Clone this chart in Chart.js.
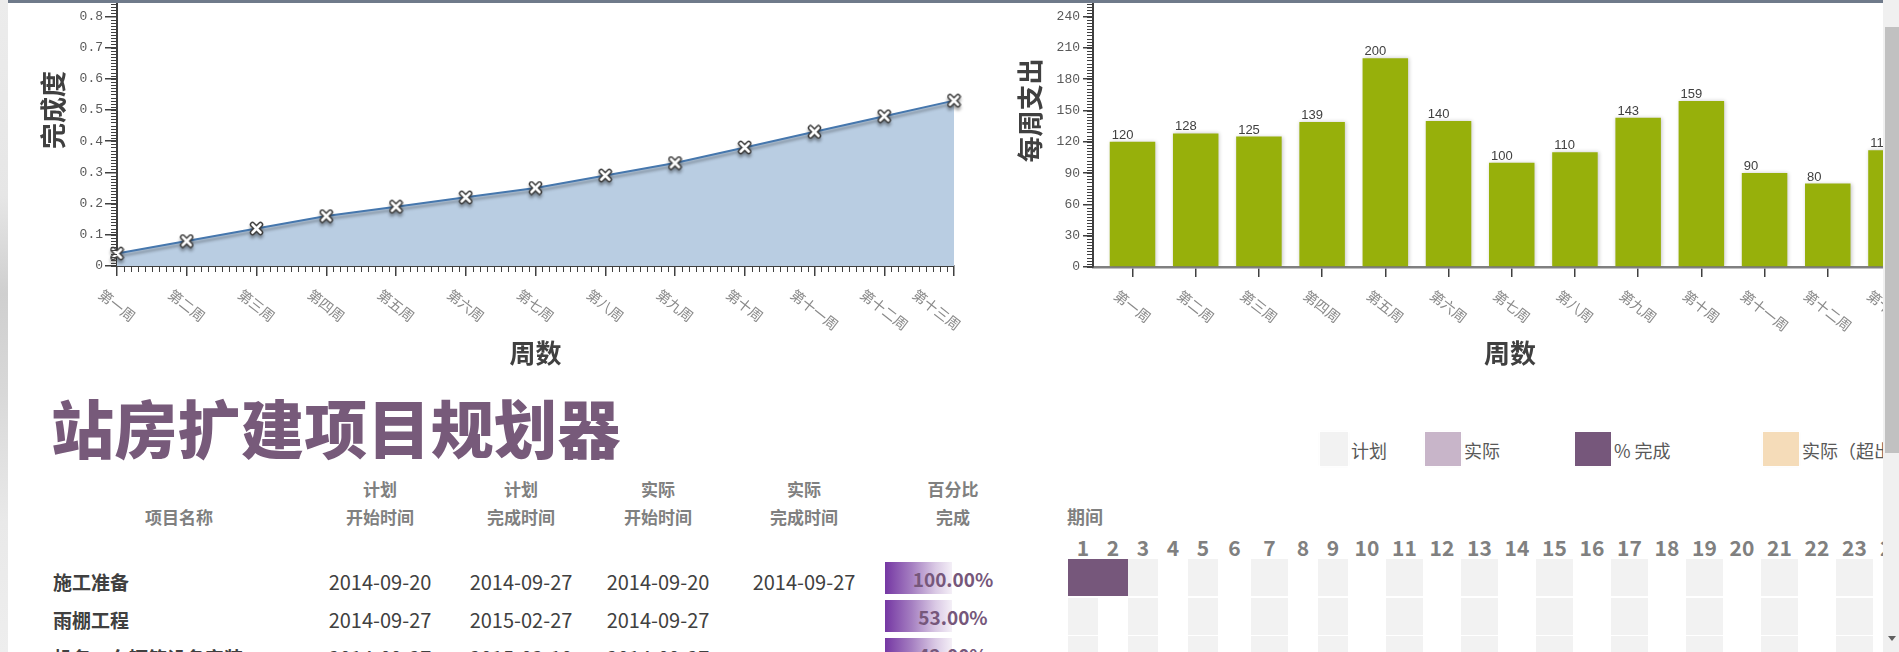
<!DOCTYPE html>
<html>
<head>
<meta charset="utf-8">
<script src="https://cdn.jsdelivr.net/npm/chart.js@4.4.0/dist/chart.umd.min.js"></script>
<style>
html, body { margin: 0; padding: 0; background: #fff; }
body { width: 1899px; height: 652px; overflow: hidden; position: relative; font-family: "Noto Sans CJK SC", "Noto Sans", sans-serif; }
canvas { position: absolute; }
#c1 { left: 0; top: -60px; }
#c2 { left: 990px; top: -60px; }
.abs { position: absolute; white-space: nowrap; }
.ctr { transform: translate(-50%, -50%); text-align: center; }
#topbar { position: absolute; left: 8px; top: 0; width: 1875px; height: 3px; background: #6f7a8a; z-index: 5; }
#leftstrip { position: absolute; left: 0; top: 0; width: 8px; height: 652px; z-index: 5;
  background: linear-gradient(to bottom, #ececec 0%, #e6e6e6 30%, #cfcfcf 45%, #d8d8d8 60%, #e9e9e9 80%, #eeeeee 100%); }
#scroll { position: absolute; left: 1883px; top: 0; width: 16px; height: 652px; background: #f0f0f0; z-index: 6; }
#thumb { position: absolute; left: 2px; top: 27px; width: 14px; height: 426px; background: #c1c1c1; }
#arrow { position: absolute; left: 5px; top: 636px; width: 0; height: 0; border-left: 4px solid transparent; border-right: 4px solid transparent; border-top: 5px solid #606060; }
#title { left: 51px; top: 425px; transform: translateY(-50%); font-size: 63px; font-weight: 900; color: #775a7a; letter-spacing: 0.3px; }
.hdr { font-size: 17px; font-weight: bold; color: #808080; line-height: 28px; }
.name { font-size: 19px; font-weight: bold; color: #404040; }
.date { font-size: 20px; color: #404040; }
.pct { font-size: 19px; font-weight: bold; color: #76577b; }
.bar { position: absolute; background: linear-gradient(to right, #7537a3 0%, #a57fc1 40%, #d9c8e4 75%, #f4eff7 100%); }
.cell { position: absolute; }
.num { font-size: 21px; font-weight: bold; color: #808080; }
.leg { font-size: 18px; color: #595959; }
</style>
</head>
<body>
<canvas id="c1" width="975" height="430"></canvas>
<canvas id="c2" width="937" height="430"></canvas>
<div id="sheet"></div>
<div id="topbar"></div>
<div id="leftstrip"></div>
<div id="scroll"><div id="thumb"></div><div id="arrow"></div></div>
<script>
// ---- chart data ----
const weeks = ['第一周', '第二周', '第三周', '第四周', '第五周', '第六周', '第七周', '第八周', '第九周', '第十周', '第十一周', '第十二周', '第十三周'];
const progress = [0.04, 0.08, 0.12, 0.16, 0.19, 0.22, 0.25, 0.29, 0.33, 0.38, 0.43, 0.48, 0.53];
const spending = [120, 128, 125, 139, 200, 140, 100, 110, 143, 159, 90, 80, 112];

// ---- sheet data ----
const headers = [['', '项目名称'], ['计划', '开始时间'], ['计划', '完成时间'], ['实际', '开始时间'], ['实际', '完成时间'], ['百分比', '完成']];
const taskNames = ['施工准备', '雨棚工程', '机务、车辆等设备安装'];
const planStart = ['2014-09-20', '2014-09-27', '2014-09-27'];
const planEnd = ['2014-09-27', '2015-02-27', '2015-03-10'];
const actualStart = ['2014-09-20', '2014-09-27', '2014-09-27'];
const actualEnd = ['2014-09-27', '', ''];
const pctDone = [1.00, 0.53, 0.42];
const legendLabels = ['计划', '实际', '% 完成', '实际（超出计划）'];
const periods = [1, 2, 3, 4, 5, 6, 7, 8, 9, 10, 11, 12, 13, 14, 15, 16, 17, 18, 19, 20, 21, 22, 23, 24];
const doneCells = [[1, 2], [], []];

// ---- layout / style ----
const legendColors = ['#f2f2f2', '#c8b5c9', '#76577b', '#f5dcb9'];
const legendBox = [[1320, 28], [1425, 36], [1575, 36], [1763, 36]];
const colCenters = [179, 380, 521, 658, 804, 953];
const colEdges = [1068, 1098, 1128, 1158, 1188, 1218, 1251, 1288, 1318, 1348, 1386, 1423, 1461, 1498, 1536, 1573, 1611, 1648, 1686, 1723, 1761, 1798, 1836, 1873, 1912];
const rowY = [581, 619, 657];
const cjk = '"Noto Sans CJK SC", sans-serif';
const mono = '"Liberation Mono", "DejaVu Sans Mono", monospace';

// marker: white x with dark rim
const xMark = document.createElement('canvas');
xMark.width = 15; xMark.height = 15;
(function () {
  const g = xMark.getContext('2d');
  g.lineCap = 'round';
  const cross = () => { g.beginPath(); g.moveTo(3.5, 3.5); g.lineTo(11.5, 11.5); g.moveTo(11.5, 3.5); g.lineTo(3.5, 11.5); g.stroke(); };
  g.strokeStyle = '#3c3c3c'; g.lineWidth = 5.5; cross();
  g.strokeStyle = '#ffffff'; g.lineWidth = 2.6; cross();
})();

const shadow = (color, blur, ox, oy) => ({
  id: 'shadow',
  beforeDatasetDraw(chart) {
    const c = chart.ctx; c.save();
    c.shadowColor = color; c.shadowBlur = blur; c.shadowOffsetX = ox; c.shadowOffsetY = oy;
  },
  afterDatasetDraw(chart) { chart.ctx.restore(); }
});

// week labels slanted downwards to the right
const slanted = (labels) => ({
  id: 'slanted',
  afterDraw(chart) {
    const { ctx, chartArea } = chart, sx = chart.scales.x;
    const ang = 38 * Math.PI / 180, cos = Math.cos(ang), sin = Math.sin(ang), h = 14;
    ctx.save();
    ctx.font = '14px ' + cjk; ctx.fillStyle = '#8a8a8a';
    ctx.textAlign = 'center'; ctx.textBaseline = 'middle';
    labels.forEach((t, i) => {
      const L = ctx.measureText(t).width;
      const halfW = (L * cos + h * sin) / 2, halfH = (L * sin + h * cos) / 2;
      const cx = Math.min(sx.getPixelForValue(i), chartArea.right + 9 - halfW);
      const cy = chartArea.bottom + 21 + halfH;
      ctx.save(); ctx.translate(cx, cy); ctx.rotate(ang); ctx.fillText(t, 0, 0); ctx.restore();
    });
    ctx.restore();
  }
});

const minor = (yStep, xDiv, nCats) => ({
  id: 'minor',
  afterDraw(chart) {
    const { ctx, chartArea: a } = chart, sy = chart.scales.y, sx = chart.scales.x;
    ctx.save(); ctx.strokeStyle = '#404040'; ctx.lineWidth = 1;
    const n = Math.round((sy.max - sy.min) / yStep);
    for (let k = 0; k <= n; k++) {
      const py = Math.round(sy.getPixelForValue(sy.min + k * yStep)) + 0.5;
      ctx.beginPath(); ctx.moveTo(a.left - 6, py); ctx.lineTo(a.left, py); ctx.stroke();
    }
    if (xDiv) {
      for (let i = 0; i < nCats - 1; i++) {
        for (let k = 1; k < xDiv; k++) {
          const px = Math.round(sx.getPixelForValue(i + k / xDiv)) + 0.5;
          ctx.beginPath(); ctx.moveTo(px, a.bottom); ctx.lineTo(px, a.bottom + 6); ctx.stroke();
        }
      }
    }
    ctx.restore();
  }
});

const barValues = {
  id: 'barValues',
  afterDatasetsDraw(chart) {
    const { ctx } = chart, meta = chart.getDatasetMeta(0);
    ctx.save();
    ctx.font = '13px "Liberation Sans", sans-serif'; ctx.fillStyle = '#404040';
    ctx.textAlign = 'left'; ctx.textBaseline = 'alphabetic';
    meta.data.forEach((bar, i) => ctx.fillText(String(spending[i]), bar.x - bar.width / 2 + 2, bar.y - 3));
    ctx.restore();
  }
};

const axisTitle = (text, pad) => ({ display: true, text, color: '#404040', font: { family: cjk, size: 26, weight: 'bold' }, padding: pad });

// ---- line chart: 完成度 ----
new Chart(document.getElementById('c1'), {
  type: 'line',
  data: {
    labels: weeks,
    datasets: [{
      data: progress, borderColor: '#4677ad', borderWidth: 2, backgroundColor: '#b9cde2',
      fill: 'origin', tension: 0, pointStyle: xMark, pointRadius: 7, clip: false
    }]
  },
  options: {
    responsive: false, animation: false, events: [],
    layout: { padding: { top: 14, right: 21, left: 0, bottom: 0 } },
    plugins: { legend: { display: false }, tooltip: { enabled: false } },
    scales: {
      x: {
        type: 'category', offset: false,
        grid: { drawOnChartArea: false, tickLength: 10, color: '#404040', lineWidth: 1.5 },
        border: { color: '#404040', width: 2 },
        ticks: { display: false },
        title: axisTitle('周数', { top: 0, bottom: 1 }),
        afterFit: s => { s.height = 104; }
      },
      y: {
        min: 0, max: 1,
        ticks: { stepSize: 0.1, padding: 2, color: '#595959', font: { family: mono, size: 13 },
          callback: v => v === 0 ? '0' : v.toFixed(1) },
        grid: { drawOnChartArea: false, tickLength: 12, color: '#404040', lineWidth: 1.5 },
        border: { color: '#404040', width: 2 },
        title: axisTitle('完成度', { top: 38, bottom: 0 }),
        afterFit: s => { s.width = 117; }
      }
    }
  },
  plugins: [shadow('rgba(0,0,0,0.35)', 3, 0, 3), slanted(weeks), minor(0.01, 10, weeks.length)]
});

// ---- bar chart: 每周支出 ----
new Chart(document.getElementById('c2'), {
  type: 'bar',
  data: {
    datasets: [{
      data: spending.map((v, i) => ({ x: i, y: v })),
      backgroundColor: '#97b00b', borderWidth: 0, barPercentage: 0.9, categoryPercentage: 0.8
    }]
  },
  options: {
    responsive: false, animation: false, events: [],
    layout: { padding: { top: 14, right: 0, left: 0, bottom: 0 } },
    plugins: { legend: { display: false }, tooltip: { enabled: false } },
    scales: {
      x: {
        type: 'linear', min: -0.625, max: 12.57, offset: false,
        afterBuildTicks: s => { s.ticks = spending.map((_, i) => ({ value: i })); },
        grid: { drawOnChartArea: false, offset: false, tickLength: 10, color: '#404040', lineWidth: 1.5 },
        border: { color: '#808080', width: 2.5 },
        ticks: { display: false },
        title: axisTitle('周数', { top: 0, bottom: 1 }),
        afterFit: s => { s.height = 103; }
      },
      y: {
        min: 0, max: 300,
        ticks: { stepSize: 30, padding: 3, color: '#595959', font: { family: mono, size: 13 } },
        grid: { drawOnChartArea: false, tickLength: 10, color: '#404040', lineWidth: 1.5 },
        border: { color: '#404040', width: 2 },
        title: axisTitle('每周支出', { top: 25, bottom: 0 }),
        afterFit: s => { s.width = 103; }
      }
    }
  },
  plugins: [shadow('rgba(0,0,0,0.22)', 4, 1, 0), barValues, slanted(weeks), minor(3, 0, spending.length)]
});

// ---- sheet: title, table, legend, gantt ----
const sheet = document.getElementById('sheet');
function put(cls, text, x, y, center) {
  const d = document.createElement('div');
  d.className = 'abs ' + cls + (center ? ' ctr' : '');
  d.textContent = text;
  d.style.left = x + 'px'; d.style.top = y + 'px';
  if (!center) d.style.transform = 'translateY(-50%)';
  sheet.appendChild(d);
  return d;
}
const t = document.createElement('div');
t.id = 'title'; t.className = 'abs'; t.textContent = '站房扩建项目规划器';
sheet.appendChild(t);

headers.forEach((h, i) => {
  if (h[0]) put('hdr', h[0], colCenters[i], 489, true);
  put('hdr', h[1], colCenters[i], 517, true);
});

taskNames.forEach((name, r) => {
  const y = rowY[r];
  put('name', name, 53, y, false);
  [planStart, planEnd, actualStart, actualEnd].forEach((col, c) => {
    if (col[r]) put('date', col[r], colCenters[c + 1], y, true);
  });
  const b = document.createElement('div');
  b.className = 'bar';
  b.style.left = '885px'; b.style.width = '67px';
  b.style.top = (y - 19) + 'px'; b.style.height = '32px';
  sheet.appendChild(b);
  put('pct', (pctDone[r] * 100).toFixed(2) + '%', colCenters[5], y - 3, true);
});

legendLabels.forEach((lab, i) => {
  const [x, w] = legendBox[i];
  const sq = document.createElement('div');
  sq.className = 'cell';
  sq.style.cssText = `left:${x}px;top:432px;width:${w}px;height:34px;background:${legendColors[i]};box-shadow:0 0 0 1px rgba(255,255,255,0.9), 0 0 2px rgba(0,0,0,0.12);`;
  sheet.appendChild(sq);
  put('leg', lab, x + w + 3, 450, false);
});

put('hdr', '期间', 1067, 516, false).style.fontSize = '18px';

periods.forEach((p, c) => {
  const x0 = colEdges[c], x1 = colEdges[c + 1];
  put('num', String(p), (x0 + x1) / 2, 547, true);
  taskNames.forEach((_, r) => {
    const done = doneCells[r].includes(p);
    if (!done && p % 2 === 0) return;
    const cell = document.createElement('div');
    cell.className = 'cell';
    cell.style.cssText = `left:${x0}px;top:${559 + r * 38.5}px;width:${x1 - x0}px;height:37px;background:${done ? '#76577b' : '#f2f2f2'};`;
    sheet.appendChild(cell);
  });
});
</script>
</body>
</html>
